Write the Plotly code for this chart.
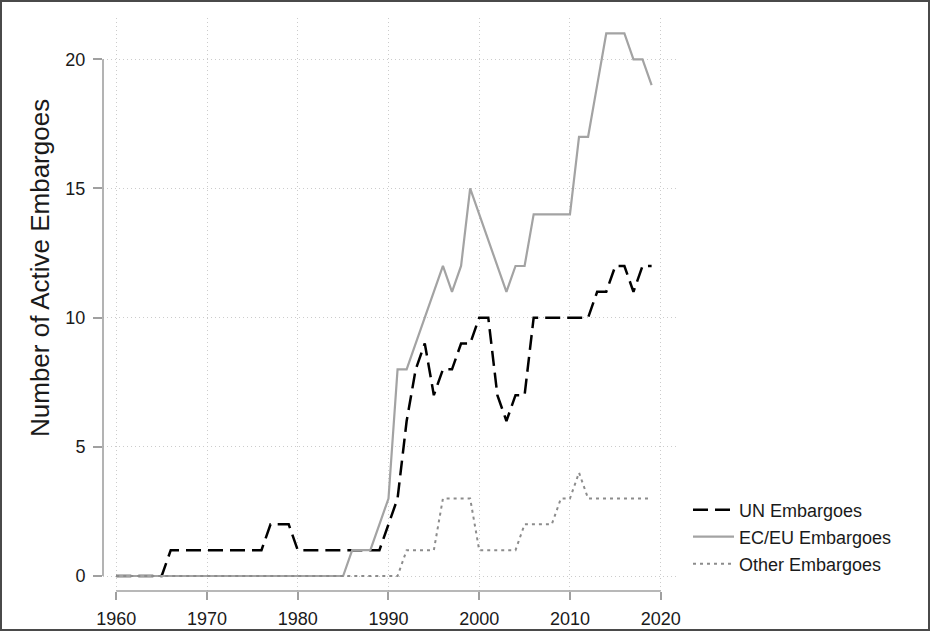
import plotly.graph_objects as go

years = list(range(1960, 2020))

un_embargoes = [0, 0, 0, 0, 0, 0,
                1, 1, 1, 1, 1, 1, 1, 1, 1, 1, 1,
                2, 2, 2,
                1, 1, 1, 1, 1, 1, 1, 1, 1, 1,
                2, 3, 6, 8, 9, 7, 8, 8, 9, 9, 10, 10, 7, 6, 7, 7,
                10, 10, 10, 10, 10, 10, 10,
                11, 11, 12, 12, 11, 12, 12]

eu_embargoes = [0] * 26 + [1, 1, 1, 2, 3, 8, 8, 9, 10, 11, 12, 11, 12, 15,
                           14, 13, 12, 11, 12, 12, 14, 14, 14, 14, 14,
                           17, 17, 19, 21, 21, 21, 20, 20, 19]

other_embargoes = [0] * 32 + [1, 1, 1, 1, 3, 3, 3, 3, 1, 1, 1, 1, 1,
                              2, 2, 2, 2, 3, 3, 4, 3, 3, 3, 3, 3, 3, 3, 3]

series_names = ["UN Embargoes", "EC/EU Embargoes", "Other Embargoes"]
x_ticks = [1960, 1970, 1980, 1990, 2000, 2010, 2020]
y_ticks = [0, 5, 10, 15, 20]
y_title = "Number of Active Embargoes"

FONT = "Liberation Sans, Arial, Helvetica, sans-serif"
TXT = "#1a1a1a"

L, R, T, B = 103, 676, 18, 591
W, H = 930, 631
pw, ph = R - L, B - T

def px_x(p):
    return (p - L) / pw

def px_y(p):
    return (B - p) / ph

fig = go.Figure()
fig.add_trace(go.Scatter(x=years, y=un_embargoes, mode="lines", name=series_names[0],
                         line=dict(color="black", width=2.5, dash="15px,7px"),
                         legend="legend"))
fig.add_trace(go.Scatter(x=years, y=eu_embargoes, mode="lines", name=series_names[1],
                         line=dict(color="#a3a3a3", width=2.2),
                         legend="legend2"))
fig.add_trace(go.Scatter(x=years, y=other_embargoes, mode="lines", name=series_names[2],
                         line=dict(color="#8c8c8c", width=2, dash="3px,4px"),
                         legend="legend3"))

axis_color = "#a0a0a0"
grid_color = "#cccccc"
shapes = [
    dict(type="line", xref="paper", yref="y", x0=0, x1=0, y0=0, y1=20,
         line=dict(color=axis_color, width=1.6)),
    dict(type="line", xref="x", yref="paper", x0=1960, x1=2020, y0=0, y1=0,
         line=dict(color=axis_color, width=1.6)),
    dict(type="rect", xref="paper", yref="paper",
         x0=px_x(1), x1=px_x(929), y0=px_y(630), y1=px_y(1),
         line=dict(color="#4a4a4a", width=2)),
]

annotations = [
    dict(text=y_title, textangle=-90, xref="paper", yref="paper",
         x=px_x(40), y=px_y(268), xanchor="center", yanchor="middle",
         showarrow=False, font=dict(family=FONT, size=26, color=TXT)),
]

leg_common = dict(xref="container", yref="container",
                  xanchor="left", yanchor="middle", bgcolor="rgba(0,0,0,0)",
                  font=dict(family=FONT, size=18, color=TXT),
                  itemwidth=41, borderwidth=0)
lx = 688 / W

def cy(p):
    return (H - p) / H

fig.update_layout(
    width=W, height=H, autosize=False,
    margin=dict(l=L, r=W - R, t=T, b=H - B, pad=0, autoexpand=False),
    plot_bgcolor="white", paper_bgcolor="white",
    font=dict(family=FONT, size=18, color=TXT),
    showlegend=True,
    legend=dict(x=lx, y=cy(510), **leg_common),
    legend2=dict(x=lx, y=cy(537), **leg_common),
    legend3=dict(x=lx, y=cy(564), **leg_common),
    shapes=shapes,
    annotations=annotations,
    xaxis=dict(
        range=[1960 - (116.3 - L) / 9.073, 1960 + (R - 116.3) / 9.073],
        tickvals=x_ticks, ticktext=[str(v) for v in x_ticks],
        ticks="outside", ticklen=8, tickwidth=1.6, tickcolor=axis_color,
        ticklabelstandoff=3, automargin=False,
        showline=False, zeroline=False,
        showgrid=True, gridcolor=grid_color, gridwidth=1, griddash="1px,3px",
        tickfont=dict(family=FONT, size=18, color=TXT),
    ),
    yaxis=dict(
        range=[-(B - 576) / 25.835, 20 + (576 - 25.835 * 20 - T) / 25.835],
        tickvals=y_ticks, ticktext=[str(v) for v in y_ticks],
        ticks="outside", ticklen=9, tickwidth=1.6, tickcolor=axis_color,
        ticklabelstandoff=4, automargin=False,
        showline=False, zeroline=False,
        showgrid=True, gridcolor=grid_color, gridwidth=1, griddash="1px,3px",
        tickfont=dict(family=FONT, size=18, color=TXT),
    ),
)

post = "document.body.style.margin='0px';"

fig.write_html("out.html", post_script=post, config={"displayModeBar": False})
